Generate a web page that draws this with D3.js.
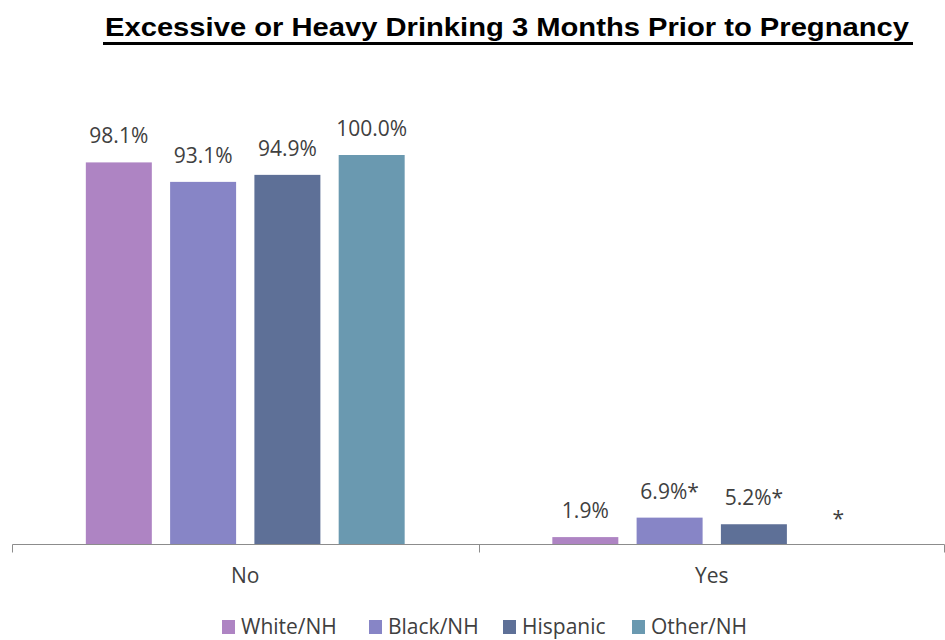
<!DOCTYPE html>
<html><head><meta charset="utf-8">
<script src="https://cdn.jsdelivr.net/npm/d3@7"></script>
<style>body{margin:0;background:#fff}svg{display:block}</style>
</head><body>
<svg id="c" width="945" height="640"></svg>
<script>
const categories = ["No", "Yes"];
const seriesNames = ["White/NH", "Black/NH", "Hispanic", "Other/NH"];
const whiteNH = [98.1, 1.9];
const blackNH = [93.1, 6.9];
const hispanic = [94.9, 5.2];
const otherNH = [100.0, null];
const labelsWhite = ["98.1%", "1.9%"];
const labelsBlack = ["93.1%", "6.9%*"];
const labelsHispanic = ["94.9%", "5.2%*"];
const labelsOther = ["100.0%", "*"];
const colors = ["#AE84C3", "#8785C6", "#5E7097", "#6A99B0"];

const values = [whiteNH, blackNH, hispanic, otherNH];
const labels = [labelsWhite, labelsBlack, labelsHispanic, labelsOther];

const svg = d3.select("#c");
const font = "'Open Sans', sans-serif";
const fs = 21;
const baseY = 544.5;

const x0 = d3.scaleBand().domain(categories).range([12, 945]).paddingInner(0).paddingOuter(0);
const x1 = d3.scaleBand().domain(seriesNames).range([0, x0.bandwidth()]).paddingInner(0.217).paddingOuter(0.876);
const y = d3.scaleLinear().domain([0, 100]).range([baseY, 155]);

// title
svg.append("text").attr("x", 105).attr("y", 36)
  .attr("font-family", "'Liberation Sans', Arial, sans-serif").attr("font-weight", "bold")
  .attr("font-size", 26.5).attr("fill", "#000")
  .attr("textLength", 804).attr("lengthAdjust", "spacingAndGlyphs")
  .text("Excessive or Heavy Drinking 3 Months Prior to Pregnancy");
svg.append("rect").attr("x", 103).attr("y", 42).attr("width", 810).attr("height", 3).attr("fill", "#000");

// bars
const groups = svg.append("g").selectAll("g").data(categories).join("g")
  .attr("transform", d => `translate(${x0(d)},0)`);

groups.each(function(cat, ci) {
  const g = d3.select(this);
  seriesNames.forEach((s, si) => {
    const v = values[si][ci];
    if (v != null) {
      g.append("rect").attr("x", x1(s)).attr("y", y(v)).attr("width", x1.bandwidth())
        .attr("height", baseY - y(v)).attr("fill", colors[si]);
    }
    g.append("text").attr("x", x1(s) + x1.bandwidth() / 2).attr("y", y(v == null ? 0 : v) - 19)
      .attr("text-anchor", "middle").attr("font-family", font).attr("font-size", fs)
      .attr("fill", "#404040").text(labels[si][ci]);
  });
});

// axis
const axis = d3.axisBottom(x0).tickSizeInner(0).tickSizeOuter(0).tickFormat(d => d);
const ag = svg.append("g").attr("transform", `translate(0,${baseY})`).call(axis);
ag.select(".domain").attr("stroke", "#8c8c8c").attr("d", "M12.5,0H944.5");
ag.selectAll(".tick line").remove();
ag.selectAll(".tick text").attr("y", 38.5).attr("dy", 0).attr("font-family", font)
  .attr("font-size", fs).attr("fill", "#404040");
const bounds = [x0(categories[0]), x0(categories[1]), x0(categories[1]) + x0.bandwidth()];
ag.selectAll("line.bnd").data(bounds).join("line").attr("class", "bnd")
  .attr("x1", d => Math.min(Math.round(d), 944) + 0.5).attr("x2", d => Math.min(Math.round(d), 944) + 0.5)
  .attr("y1", 0).attr("y2", 8).attr("stroke", "#8c8c8c");

// legend
const legendX = [222, 369, 503, 632];
const lg = svg.append("g");
seriesNames.forEach((s, i) => {
  lg.append("rect").attr("x", legendX[i]).attr("y", 620).attr("width", 13).attr("height", 14).attr("fill", colors[i]);
  lg.append("text").attr("x", legendX[i] + 19).attr("y", 634).attr("font-family", font)
    .attr("font-size", fs).attr("fill", "#404040").text(s);
});
</script>
</body></html>
